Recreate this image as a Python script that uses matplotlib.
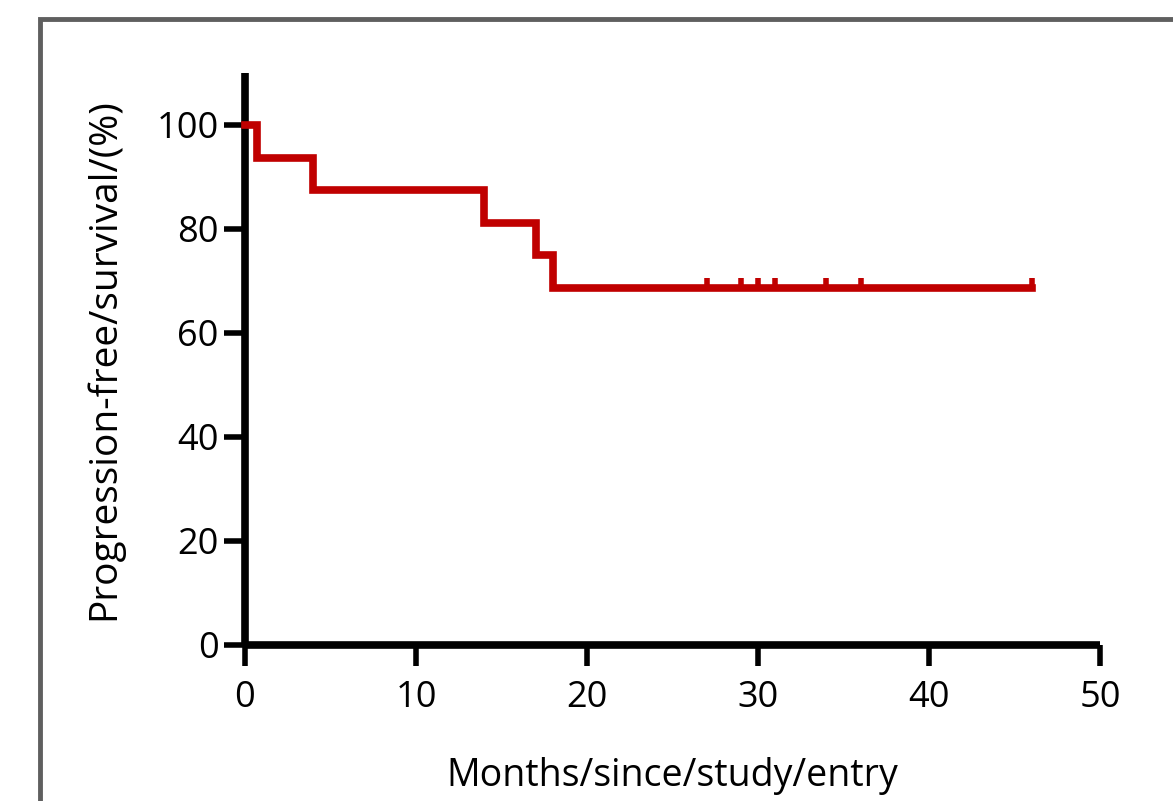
import matplotlib
matplotlib.use("Agg")
import matplotlib.pyplot as plt
from matplotlib.patches import Rectangle

# Kaplan-Meier style data
event_months = [0, 0.7, 4, 14, 17, 18, 46]
survival_pct = [100, 93.75, 87.5, 81.25, 75, 68.75, 68.75]
censor_months = [27, 29, 30, 31, 34, 36, 46]
censor_pct = [68.75] * len(censor_months)

x_ticks = [0, 10, 20, 30, 40, 50]
y_ticks = [0, 20, 40, 60, 80, 100]

RED = "#c00000"
FONT = "Open Sans"

fig = plt.figure(figsize=(11.73, 8.01), dpi=100)

# grey frame around the panel (runs off the right and bottom edges)
fig.add_artist(Rectangle((40 / 1173, -0.1), 1.2, 1.1 - 19 / 801,
                         transform=fig.transFigure, fill=False,
                         edgecolor="#5f5f5f", linewidth=3.5))

ax = fig.add_axes([245 / 1173, (801 - 645) / 801, 855 / 1173, 572 / 801])

ax.step(event_months, survival_pct, where="post", color=RED, linewidth=5.5,
        solid_joinstyle="miter", clip_on=False, zorder=3)
ax.plot(censor_months, censor_pct, linestyle="none", marker=[(0, 0), (0, 1)],
        markersize=15, markeredgewidth=4, color=RED, clip_on=False, zorder=3)

ax.set_xlim(0, 50)
ax.set_ylim(0, 110)
ax.set_xticks(x_ticks)
ax.set_yticks(y_ticks)

for side in ["top", "right"]:
    ax.spines[side].set_visible(False)
for side in ["left", "bottom"]:
    ax.spines[side].set_linewidth(5.5)
    ax.spines[side].set_capstyle("butt")

ax.tick_params(axis="both", length=15, width=4, color="black")
ax.tick_params(axis="y", pad=4, labelsize=26)
ax.tick_params(axis="x", pad=10, labelsize=26)
for lab in ax.get_xticklabels() + ax.get_yticklabels():
    lab.set_fontfamily(FONT)

ax.set_xlabel("Months/since/study/entry", fontsize=27, family=FONT, labelpad=30)
ax.set_ylabel("Progression-free/survival/(%)", fontsize=28, family=FONT, labelpad=24)

fig.savefig("out.png", dpi=100)
